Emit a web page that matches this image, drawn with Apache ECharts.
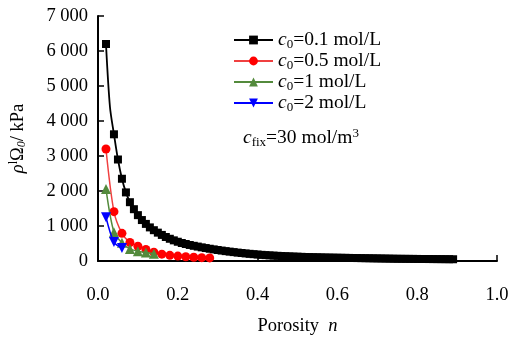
<!DOCTYPE html>
<html><head><meta charset="utf-8">
<script src="https://cdn.jsdelivr.net/npm/echarts@6/dist/echarts.min.js"></script>
<style>html,body{margin:0;padding:0;background:#fff}#c{width:518px;height:341px}</style>
</head><body><div id="c"></div>
<script>
// ---- data ----
const nBlack = [0.02,0.03,0.04,0.05,0.06,0.07,0.08,0.09,0.10,0.11,0.12,0.13,0.14,0.15,0.16,0.17,0.18,0.19,0.20,
  0.21,0.22,0.23,0.24,0.25,0.26,0.27,0.28,0.29,0.30,0.31,0.32,0.33,0.34,0.35,0.36,0.37,0.38,0.39,0.40,
  0.41,0.42,0.43,0.44,0.45,0.46,0.47,0.48,0.49,0.50,0.51,0.52,0.53,0.54,0.55,0.56,0.57,0.58,0.59,0.60,
  0.61,0.62,0.63,0.64,0.65,0.66,0.67,0.68,0.69,0.70,0.71,0.72,0.73,0.74,0.75,0.76,0.77,0.78,0.79,0.80,
  0.81,0.82,0.83,0.84,0.85,0.86,0.87,0.88,0.89];
const pBlack = [6200,4400,3620,2900,2350,1960,1680,1480,1310,1170,1060,960,880,810,745,685,635,590,550,
  515,485,458,434,412,390,370,350,332,315,298,282,268,254,240,228,216,205,195,185,
  176,168,161,154,148,142,137,132,127,123,119,115,112,109,106,103,100,98,96,94,
  92,90,88,86,84,82,80,78,76,74,72,70,68,66,64,63,62,61,60,59,
  58,57,56,55,54,53,52,51,50];
const nRed = [0.02,0.04,0.06,0.08,0.10,0.12,0.14,0.16,0.18,0.20,0.22,0.24,0.26,0.28];
const pRed = [3200,1410,790,530,420,330,250,195,162,140,120,106,96,88];
const nGreen = [0.02,0.04,0.06,0.08,0.10,0.12,0.14];
const pGreen = [2060,820,520,345,280,240,208];
const nBlue = [0.02,0.04,0.06];
const pBlue = [1250,540,370];
const xTickLabels = ['0.0','0.2','0.4','0.6','0.8','1.0'];
const yTickLabels = ['0','1 000','2 000','3 000','4 000','5 000','6 000','7 000'];
const seriesNames = ['c0=0.1 mol/L','c0=0.5 mol/L','c0=1 mol/L','c0=2 mol/L'];
const legendRich = ['{i|c}{s|0}=0.1 mol/L','{i|c}{s|0}=0.5 mol/L','{i|c}{s|0}=1 mol/L','{i|c}{s|0}=2 mol/L'];

const FONT = '"Liberation Serif","Times New Roman",serif';
const FS = 18.5;
const LFS = 19.5;
const zip = (a,b)=>a.map((v,i)=>[v,b[i]]);

const chart = echarts.init(document.getElementById('c'), null, {renderer:'canvas'});
const blackData = zip(nBlack,pBlack).map((d,i)=> i===1 ? {value:d, symbol:'none'} : d);
chart.setOption({
  animation:false,
  grid:{left:98,right:21,top:16,bottom:75},
  xAxis:{type:'value',min:0,max:1,interval:0.2,
    axisLine:{show:true,lineStyle:{color:'#000',width:2}},
    axisTick:{show:true,inside:true,length:6,lineStyle:{color:'#000',width:1.5}},
    axisLabel:{margin:25,color:'#000',fontFamily:FONT,fontSize:FS,
      formatter:(v)=>xTickLabels[Math.round(v/0.2)]},
    splitLine:{show:false},
    name:'{a|Porosity  }{i|n}',nameLocation:'middle',nameGap:56,
    nameTextStyle:{rich:{a:{fontFamily:FONT,fontSize:FS,color:'#000'},i:{fontFamily:FONT,fontSize:FS,fontStyle:'italic',color:'#000'}}}
  },
  yAxis:{type:'value',min:0,max:7000,interval:1000,
    axisLine:{show:true,lineStyle:{color:'#000',width:2}},
    axisTick:{show:true,inside:true,length:6,lineStyle:{color:'#000',width:1.5}},
    axisLabel:{margin:10,color:'#000',fontFamily:FONT,fontSize:FS,
      formatter:(v)=>yTickLabels[Math.round(v/1000)]},
    splitLine:{show:false},
    name:'{i|ρ}{s|l}{a|Ω}{s0|0}{a|/ kPa}',nameLocation:'middle',nameGap:70,nameRotate:90,
    nameTextStyle:{rich:{
      a:{fontFamily:FONT,fontSize:FS,color:'#000'},
      i:{fontFamily:FONT,fontSize:FS,fontStyle:'italic',color:'#000'},
      s:{fontFamily:FONT,fontSize:12,color:'#000',padding:[0,0,8,0]},
      s0:{fontFamily:FONT,fontSize:12,fontStyle:'italic',color:'#000',padding:[8,0,0,0]}}}
  },
  legend:{orient:'vertical',left:228,top:25,itemWidth:39,itemHeight:11,itemGap:0,
    data:seriesNames,
    formatter:(name)=>legendRich[seriesNames.indexOf(name)],
    textStyle:{color:'#000',fontFamily:FONT,fontSize:LFS,lineHeight:20,
      rich:{i:{fontFamily:FONT,fontSize:LFS,fontStyle:'italic',color:'#000'},
            s:{fontFamily:FONT,fontSize:13,color:'#000',padding:[9,0,0,0]}}}
  },
  graphic:[{type:'text',left:243,top:127,style:{
    text:'{i|c}{s|fix}=30 mol/m{p|3}',
    rich:{i:{fontFamily:FONT,fontSize:LFS,fontStyle:'italic',fill:'#000'},
          s:{fontFamily:FONT,fontSize:13,fill:'#000',padding:[9,0,0,0]},
          p:{fontFamily:FONT,fontSize:13,fill:'#000',padding:[0,0,9,0]}},
    font:LFS+'px '+FONT,fill:'#000'}}],
  series:[
    {name:seriesNames[0],type:'line',smooth:0.3,data:blackData,symbol:'rect',symbolSize:8,
      itemStyle:{color:'#000'},lineStyle:{color:'#000',width:1.8},z:2},
    {name:seriesNames[1],type:'line',smooth:0.3,data:zip(nRed,pRed),symbol:'circle',symbolSize:9,
      itemStyle:{color:'#ff0000'},lineStyle:{color:'#f04040',width:1.5},z:3},
    {name:seriesNames[2],type:'line',smooth:0.3,data:zip(nGreen,pGreen),symbol:'triangle',symbolSize:10,
      itemStyle:{color:'#538a3c'},lineStyle:{color:'#538a3c',width:1.5},z:4},
    {name:seriesNames[3],type:'line',smooth:0.3,data:zip(nBlue,pBlue),symbol:'triangle',symbolRotate:180,symbolSize:10,
      itemStyle:{color:'#0000ff'},lineStyle:{color:'#0000ff',width:1.5},z:5}
  ]
});
</script></body></html>
